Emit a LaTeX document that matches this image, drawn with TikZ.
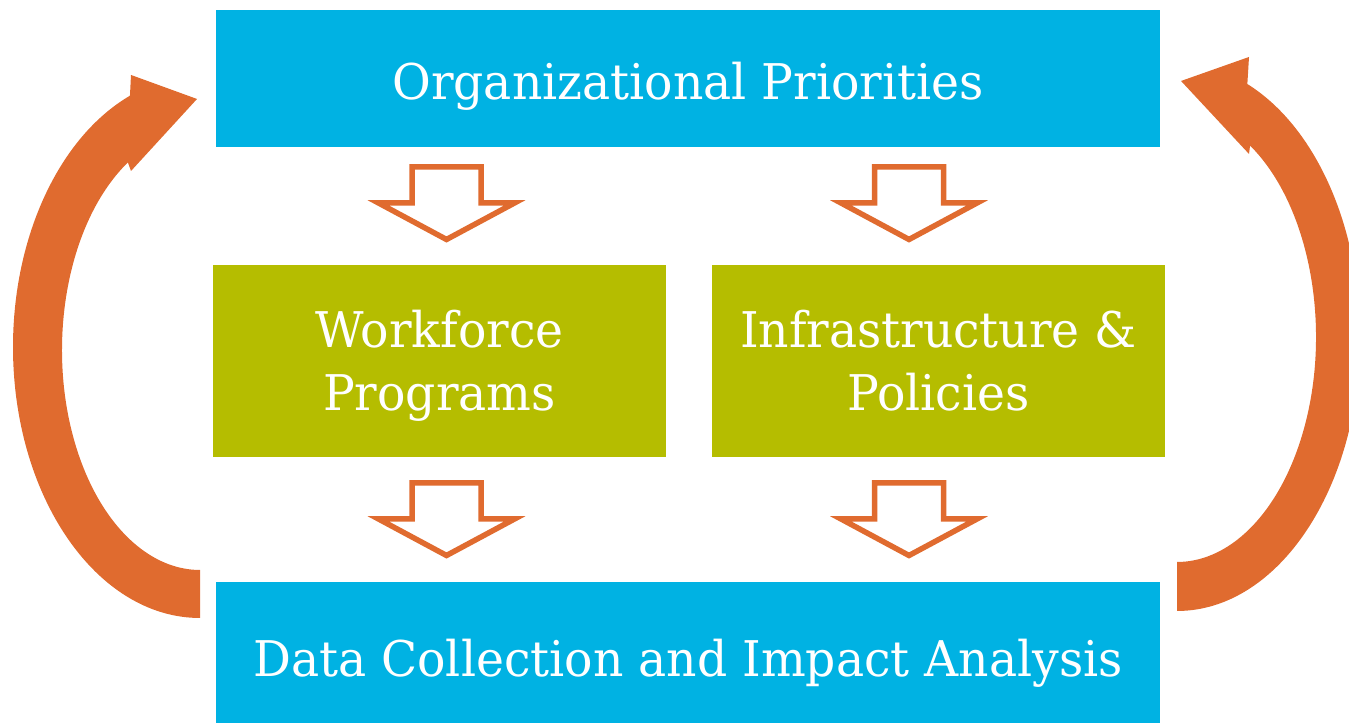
\documentclass[tikz,border=0pt]{standalone}
\usepackage{fontspec}
\setmainfont{DejaVu Serif}[FakeStretch=0.96]
\usetikzlibrary{calc}

\definecolor{cyanbox}{RGB}{0,178,227}
\definecolor{olivebox}{RGB}{181,189,0}
\definecolor{loopcol}{RGB}{224,107,47}

\begin{document}
\begin{tikzpicture}[
    wide/.style={rectangle, fill=cyanbox, text=white, minimum width=9.44cm, minimum height=1.37cm, inner sep=0pt, text height=0.43cm, text depth=0pt},
    stage/.style={rectangle, fill=olivebox, text=white, minimum width=4.53cm, minimum height=1.92cm, inner sep=0pt, align=center, text height=1.1cm, text depth=0.1cm},
    hollowdown/.pic={
      \draw[loopcol, line width=0.055cm, fill=white]
        (-0.345,0.365) -- (0.345,0.365) -- (0.345,0.005) -- (0.68,0.005)
        -- (0,-0.36) -- (-0.68,0.005) -- (-0.345,0.005) -- cycle;
    },
    font=\fontsize{14}{18.2}\selectfont
]

  % Define variables for the layout
  \def\midX{6.88}        % centre line of the wide boxes
  \def\leftX{4.465}      % x of the left column of block arrows
  \def\rightX{9.09}      % x of the right column of block arrows

  \useasboundingbox (0,0) rectangle (13.49,7.23);

  % Boxes
  \node[wide] (prio) at (\midX,6.445) {Organizational Priorities};
  \node[stage] (work) at (4.395,3.62) {Workforce\\Programs};
  \node[stage] (infra) at (9.385,3.62) {Infrastructure \&\\Policies};
  \node[wide, minimum height=1.41cm, text height=0.48cm] (data) at (\midX,0.705) {Data Collection and Impact Analysis};

  % Block arrows between the rows
  \pic at (\leftX,5.195) {hollowdown};
  \pic at (\rightX,5.195) {hollowdown};
  \pic at (\leftX,2.035) {hollowdown};
  \pic at (\rightX,2.035) {hollowdown};

  % Feedback loop on the left, running up to the priorities
  \coordinate (lc) at (2.00,3.76);
  \coordinate (lci) at (2.00,3.73);
  \fill[loopcol] ($(lc)+(270:1.87 and 2.71)$)
    arc[start angle=270, end angle=112, x radius=1.87, y radius=2.71]
    -- (1.31,6.48) -- (1.97,6.24) -- (1.31,5.52)
    -- ($(lci)+(121.5:1.38 and 2.20)$)
    arc[start angle=121.5, end angle=270, x radius=1.38, y radius=2.20]
    -- cycle;

  % Feedback loop on the right
  \coordinate (rc) at (11.77,3.86);
  \fill[loopcol] ($(rc)+(-90:1.83 and 2.74)$)
    arc[start angle=-90, end angle=67.4, x radius=1.83, y radius=2.74]
    -- (12.49,6.66) -- (11.81,6.42) -- (12.49,5.69)
    -- ($(rc)+(58.3:1.39 and 2.25)$)
    arc[start angle=58.3, end angle=-90, x radius=1.39, y radius=2.25]
    -- cycle;

\end{tikzpicture}
\end{document}
